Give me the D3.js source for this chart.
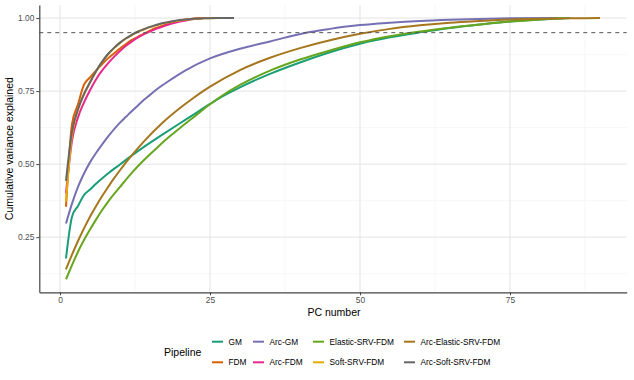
<!DOCTYPE html>
<html>
<head>
<meta charset="utf-8">
<script src="https://cdn.jsdelivr.net/npm/d3@7"></script>
<style>
  body { margin: 0; background: #fff; }
  svg { display: block; font-family: "Liberation Sans", Arial, sans-serif; }
</style>
</head>
<body>
<div id="chart"></div>
<script>
const width = 634;
const height = 380;

// pipelines in plotting order (ggplot factor order)
const pipelines = ["GM", "FDM", "Arc-GM", "Arc-FDM", "Elastic-SRV-FDM", "Soft-SRV-FDM", "Arc-Elastic-SRV-FDM", "Arc-Soft-SRV-FDM"];
const colors = ["#1B9E77", "#D95F02", "#7570B3", "#E7298A", "#66A61E", "#E6AB02", "#A6761D", "#666666"];

// cumulative variance explained
const gmPC = [1, 2, 3, 4, 5, 6, 7, 8, 10, 12, 14, 17, 20, 22, 25, 27, 30, 35, 40, 45, 50, 55, 60, 65, 70, 75, 80, 85];
const gmVar = [0.177, 0.320, 0.357, 0.394, 0.413, 0.433, 0.451, 0.468, 0.499, 0.530, 0.559, 0.600, 0.640, 0.666, 0.706, 0.731, 0.763, 0.809, 0.848, 0.883, 0.912, 0.934, 0.951, 0.966, 0.978, 0.988, 0.995, 1.0];

const fdmPC = [1, 2, 3, 4, 5, 6, 7, 8, 9, 10, 11, 12, 13, 14, 15, 16, 17, 18, 19, 20, 21, 22, 23, 24];
const fdmVar = [0.354, 0.637, 0.705, 0.772, 0.797, 0.820, 0.842, 0.862, 0.879, 0.896, 0.911, 0.925, 0.936, 0.947, 0.957, 0.966, 0.973, 0.980, 0.986, 0.991, 0.995, 0.998, 1.0, 1.0];

const arcGmPC = [1, 2, 3, 4, 5, 6, 7, 8, 10, 11, 12, 13, 14, 15, 16, 17, 18, 21, 25, 30, 35, 41, 45, 50, 55, 60, 65, 70, 75, 83];
const arcGmVar = [0.297, 0.365, 0.422, 0.468, 0.506, 0.538, 0.567, 0.594, 0.642, 0.662, 0.682, 0.701, 0.720, 0.737, 0.754, 0.769, 0.783, 0.822, 0.862, 0.895, 0.920, 0.950, 0.963, 0.976, 0.984, 0.990, 0.994, 0.997, 0.999, 1.0];

const arcFdmPC = [1, 2, 3, 4, 5, 6, 7, 8, 9, 10, 11, 12, 13, 14, 15, 16, 17, 18, 19, 20, 21, 22, 23, 24, 25];
const arcFdmVar = [0.400, 0.580, 0.660, 0.711, 0.753, 0.790, 0.820, 0.845, 0.867, 0.887, 0.905, 0.920, 0.934, 0.945, 0.954, 0.963, 0.970, 0.977, 0.983, 0.988, 0.992, 0.996, 0.998, 1.0, 1.0];

const elasticPC = [1, 2, 3, 4, 5, 6, 7, 8, 10, 12, 14, 16, 18, 20, 22, 25, 27, 30, 35, 40, 45, 50, 55, 60, 65, 70, 75, 80, 84];
const elasticVar = [0.106, 0.154, 0.200, 0.240, 0.276, 0.310, 0.342, 0.371, 0.422, 0.471, 0.514, 0.553, 0.590, 0.624, 0.656, 0.705, 0.734, 0.771, 0.820, 0.858, 0.889, 0.917, 0.938, 0.954, 0.967, 0.978, 0.988, 0.995, 1.0];

const softPC = [1, 2, 3, 4, 5, 6, 7, 8, 9, 10, 11, 12, 13, 14, 15, 16, 17, 18, 19, 20, 22, 24, 27];
const softVar = [0.372, 0.600, 0.686, 0.739, 0.779, 0.817, 0.849, 0.876, 0.897, 0.915, 0.930, 0.942, 0.953, 0.961, 0.969, 0.975, 0.981, 0.985, 0.989, 0.992, 0.996, 0.999, 1.0];

const arcElasticPC = [1, 2, 3, 4, 5, 6, 7, 8, 9, 10, 11, 12, 14, 17, 20, 22, 25, 30, 35, 40, 45, 50, 55, 60, 65, 70, 75, 80, 85, 90];
const arcElasticVar = [0.140, 0.190, 0.237, 0.280, 0.320, 0.356, 0.390, 0.421, 0.451, 0.479, 0.506, 0.531, 0.578, 0.640, 0.692, 0.723, 0.765, 0.822, 0.864, 0.897, 0.924, 0.946, 0.963, 0.975, 0.984, 0.990, 0.995, 0.998, 0.999, 1.0];

const arcSoftPC = [1, 2, 3, 4, 5, 6, 7, 8, 9, 10, 11, 12, 13, 14, 15, 16, 17, 18, 19, 20, 22, 24, 26, 29];
const arcSoftVar = [0.443, 0.612, 0.688, 0.740, 0.780, 0.818, 0.850, 0.877, 0.898, 0.916, 0.931, 0.943, 0.954, 0.962, 0.970, 0.976, 0.982, 0.986, 0.990, 0.993, 0.997, 0.999, 1.0, 1.0];

const threshold = 0.95;
const xTicks = [0, 25, 50, 75];
const xMinor = [12.5, 37.5, 62.5, 87.5];
const yTicks = [0.25, 0.50, 0.75, 1.00];
const yMinor = [0.125, 0.375, 0.625, 0.875];

const seriesPC = [gmPC, fdmPC, arcGmPC, arcFdmPC, elasticPC, softPC, arcElasticPC, arcSoftPC];
const seriesVar = [gmVar, fdmVar, arcGmVar, arcFdmVar, elasticVar, softVar, arcElasticVar, arcSoftVar];

const series = pipelines.map((name, i) => ({
    name: name,
    color: colors[i],
    values: seriesPC[i].map((pc, j) => ({ pc: pc, v: seriesVar[i][j] }))
}));

// panel
const panelLeft = 39.3, panelRight = 626.7, panelTop = 5, panelBottom = 292.3;

// ggplot style 5% expansion
const xMin = 1, xMax = 90, yMin = 0.106, yMax = 1.0;
const xPad = (xMax - xMin) * 0.05, yPad = (yMax - yMin) * 0.05;

const x = d3.scaleLinear().domain([xMin - xPad, xMax + xPad]).range([panelLeft, panelRight]);
const y = d3.scaleLinear().domain([yMin - yPad, yMax + yPad]).range([panelBottom, panelTop]);

const svg = d3.select("#chart")
    .append("svg")
        .attr("width", width)
        .attr("height", height)
        .attr("viewBox", [0, 0, width, height]);

// grid
const grid = svg.append("g");
grid.selectAll(".xminor").data(xMinor).enter().append("line")
    .attr("x1", d => x(d)).attr("x2", d => x(d))
    .attr("y1", panelTop).attr("y2", panelBottom)
    .attr("stroke", "#f2f2f2").attr("stroke-width", 0.6);
grid.selectAll(".yminor").data(yMinor).enter().append("line")
    .attr("x1", panelLeft).attr("x2", panelRight)
    .attr("y1", d => y(d)).attr("y2", d => y(d))
    .attr("stroke", "#f2f2f2").attr("stroke-width", 0.6);
grid.selectAll(".xmajor").data(xTicks).enter().append("line")
    .attr("x1", d => x(d)).attr("x2", d => x(d))
    .attr("y1", panelTop).attr("y2", panelBottom)
    .attr("stroke", "#e3e3e3").attr("stroke-width", 1);
grid.selectAll(".ymajor").data(yTicks).enter().append("line")
    .attr("x1", panelLeft).attr("x2", panelRight)
    .attr("y1", d => y(d)).attr("y2", d => y(d))
    .attr("stroke", "#e3e3e3").attr("stroke-width", 1);

// lines
const line = d3.line()
    .x(d => x(d.pc))
    .y(d => y(d.v))
    .curve(d3.curveMonotoneX);

svg.append("g")
    .attr("fill", "none")
    .attr("stroke-width", 2)
    .attr("stroke-linejoin", "round")
    .selectAll("path")
    .data(series)
    .enter().append("path")
        .attr("d", d => line(d.values))
        .attr("stroke", d => d.color);

// 95% threshold
svg.append("line")
    .attr("x1", panelLeft).attr("x2", panelRight)
    .attr("y1", y(threshold)).attr("y2", y(threshold))
    .attr("stroke", "#555")
    .attr("stroke-width", 1)
    .attr("stroke-dasharray", "4,4");

// axes
const xAxis = svg.append("g")
    .attr("transform", "translate(0," + panelBottom + ")")
    .call(d3.axisBottom(x).tickValues(xTicks).tickSize(3).tickSizeOuter(0).tickPadding(2));
const yAxis = svg.append("g")
    .attr("transform", "translate(" + panelLeft + ",0)")
    .call(d3.axisLeft(y).tickValues(yTicks).tickFormat(d3.format(".2f")).tickSize(3).tickSizeOuter(0).tickPadding(2));

[xAxis, yAxis].forEach(a => {
    a.select(".domain").attr("stroke", "#444").attr("stroke-width", 1.2);
    a.selectAll(".tick line").attr("stroke", "#444");
    a.selectAll(".tick text")
        .attr("fill", "#4d4d4d")
        .style("font-size", "8.4px")
        .style("font-family", "'Liberation Sans', Arial, sans-serif");
});

// titles
svg.append("text")
    .attr("x", 334).attr("y", 316)
    .attr("text-anchor", "middle")
    .style("font-size", "10.5px")
    .text("PC number");

svg.append("text")
    .attr("transform", "translate(13," + ((panelTop + panelBottom) / 2) + ") rotate(-90)")
    .attr("text-anchor", "middle")
    .style("font-size", "10.5px")
    .text("Cumulative variance explained");

// legend
const legend = svg.append("g");
legend.append("text")
    .attr("x", 164).attr("y", 356)
    .style("font-size", "10.5px")
    .text("Pipeline");

const keyX = [212, 253, 313, 404];
const keyY = [341.7, 362.3];

const item = legend.selectAll(".key")
    .data(series)
    .enter().append("g")
        .attr("transform", (d, i) => "translate(" + keyX[Math.floor(i / 2)] + "," + keyY[i % 2] + ")");

item.append("line")
    .attr("x1", 0).attr("x2", 11)
    .attr("stroke", d => d.color)
    .attr("stroke-width", 2);

item.append("text")
    .attr("x", 16.5).attr("y", 3)
    .style("font-size", "8.3px")
    .text(d => d.name);
</script>
</body>
</html>
